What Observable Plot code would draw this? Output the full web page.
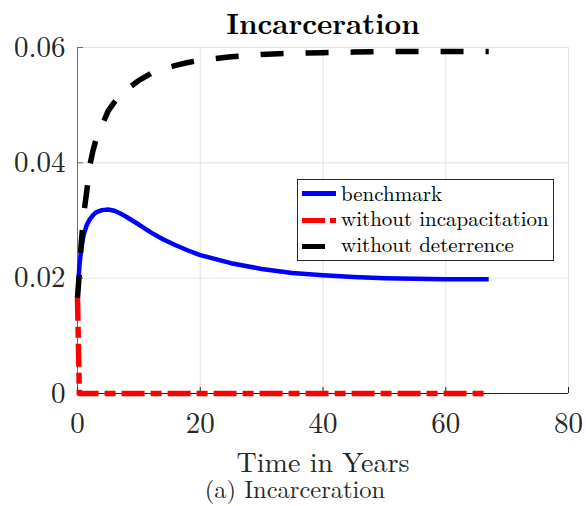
<!DOCTYPE html>
<html>
<head>
<meta charset="utf-8">
<script src="https://cdn.jsdelivr.net/npm/d3@7"></script>
<script src="https://cdn.jsdelivr.net/npm/@observablehq/plot@0.6"></script>
<style>
  html, body { margin: 0; padding: 0; background: #fff; }
  #fig { position: relative; width: 586px; height: 506px; }
  #fig > svg { position: absolute; left: 0; top: 0; }
</style>
</head>
<body>
<div id="fig"></div>
<script>
// ---- data ----
const years = [0, 0.3, 0.6, 1, 1.5, 2, 2.5, 3, 4, 5, 6, 7, 8, 10, 12, 14, 16, 18, 20, 25, 30, 35, 40, 45, 50, 55, 60, 67];
const benchmark = [0.0166, 0.0220, 0.0250, 0.0275, 0.0292, 0.0302, 0.0309, 0.0314, 0.0318, 0.0319, 0.0317, 0.0312, 0.0306, 0.0293, 0.0279, 0.0267, 0.0257, 0.0248, 0.0240, 0.0226, 0.0216, 0.0209, 0.0205, 0.0202, 0.0200, 0.0199, 0.0198, 0.0198];
const withoutIncapacitation = [0.0166, 0, 0, 0, 0, 0, 0, 0, 0, 0, 0, 0, 0, 0, 0, 0, 0, 0, 0, 0, 0, 0, 0, 0, 0, 0, 0, 0];
const withoutDeterrence = [0.0166, 0.0210, 0.0260, 0.0310, 0.0350, 0.0395, 0.0420, 0.0440, 0.0465, 0.0490, 0.0505, 0.0517, 0.0527, 0.0543, 0.0555, 0.0563, 0.0569, 0.0574, 0.0578, 0.0584, 0.0588, 0.0590, 0.0591, 0.0592, 0.0593, 0.0593, 0.0593, 0.0593];
const seriesNames = ["benchmark", "without incapacitation", "without deterrence"];
const xTicks = [0, 20, 40, 60, 80];
const yTicks = [0, 0.02, 0.04, 0.06];
const yTickLabels = ["0", "0.02", "0.04", "0.06"];
const titleText = "Incarceration";
const xLabelText = "Time in Years";
const captionText = "(a) Incarceration";

// ---- styles ----
const FONT = "'Latin Modern Roman', serif";
const styles = [
  {stroke: "#0000ff", strokeWidth: 4.5, dash: null, legendDash: null},
  {stroke: "#ff0000", strokeWidth: 5.5, dash: "23,6,11,6", legendDash: "23,5,6,10"},
  {stroke: "#000000", strokeWidth: 5.5, dash: "23,22", legendDash: "23,40"}
];
const allSeries = [benchmark, withoutIncapacitation, withoutDeterrence];
const rows = allSeries.map((vals, k) => years.map((t, i) => ({t, v: vals[i], s: seriesNames[k]})));

const W = 586, H = 506, mL = 77, mR = 18, mT = 47, mB = 113;
const frameW = W - mL - mR, frameH = H - mT - mB;

const chart = Plot.plot({
  width: W, height: H,
  marginLeft: mL, marginRight: mR, marginTop: mT, marginBottom: mB,
  style: {fontFamily: FONT, fontSize: "29px", color: "#262626", background: "transparent"},
  x: {domain: [0, 80], label: null},
  y: {domain: [0, 0.06], label: null},
  marks: [
    Plot.gridX(xTicks, {stroke: "#e3e3e3", strokeOpacity: 1}),
    Plot.gridY(yTicks, {stroke: "#e3e3e3", strokeOpacity: 1}),
    Plot.ruleX([0], {stroke: "#6e6e6e", strokeWidth: 1}),
    Plot.ruleY([0], {stroke: "#262626", strokeWidth: 1}),
    Plot.ruleX(xTicks, {stroke: "#262626", insetTop: frameH - 6}),
    Plot.ruleY(yTicks, {stroke: "#6e6e6e", insetRight: frameW - 6}),
    Plot.axisX(xTicks, {tickSize: 0, tickPadding: 19, label: null, fill: "#262626"}),
    Plot.axisY(yTicks, {tickSize: 0, tickPadding: 12, label: null, fill: "#262626", tickFormat: d => yTickLabels[yTicks.indexOf(d)]}),
    ...rows.map((data, k) => Plot.line(data, {
      x: "t", y: "v",
      stroke: styles[k].stroke, strokeWidth: styles[k].strokeWidth,
      strokeDasharray: styles[k].dash, strokeLinecap: "butt", strokeLinejoin: "round"
    })),
    Plot.text([titleText], {frameAnchor: "top", lineAnchor: "bottom", dy: -13.5, fontWeight: "bold", fontSize: 29, fill: "#000"}),
    Plot.text([xLabelText], {frameAnchor: "bottom", lineAnchor: "bottom", dy: 78, fontSize: 28, fill: "#262626"}),
    Plot.text([captionText], {frameAnchor: "bottom", lineAnchor: "bottom", dx: -28, dy: 104, fontSize: 24.5, fill: "#262626"})
  ]
});

const fig = document.getElementById("fig");
fig.appendChild(chart);

// ---- legend (overlay) ----
const box = {x: 297.5, y: 179.5, w: 256, h: 81};
const lg = d3.create("svg").attr("width", W).attr("height", H)
  .style("position", "absolute").style("left", "0px").style("top", "0px");
lg.append("rect").attr("x", box.x).attr("y", box.y).attr("width", box.w).attr("height", box.h)
  .attr("fill", "#fff").attr("stroke", "#262626").attr("stroke-width", 1);
const rowLineY = [193.5, 220.5, 246.5];
const rowTextY = [200.5, 226, 252];
seriesNames.forEach((name, k) => {
  lg.append("line").attr("x1", 302).attr("x2", 336).attr("y1", rowLineY[k]).attr("y2", rowLineY[k])
    .attr("stroke", styles[k].stroke).attr("stroke-width", 5)
    .attr("stroke-dasharray", styles[k].legendDash);
  lg.append("text").attr("x", 341).attr("y", rowTextY[k]).text(name)
    .attr("font-family", FONT).attr("font-size", 21).attr("fill", "#000");
});
fig.appendChild(lg.node());
</script>
</body>
</html>
